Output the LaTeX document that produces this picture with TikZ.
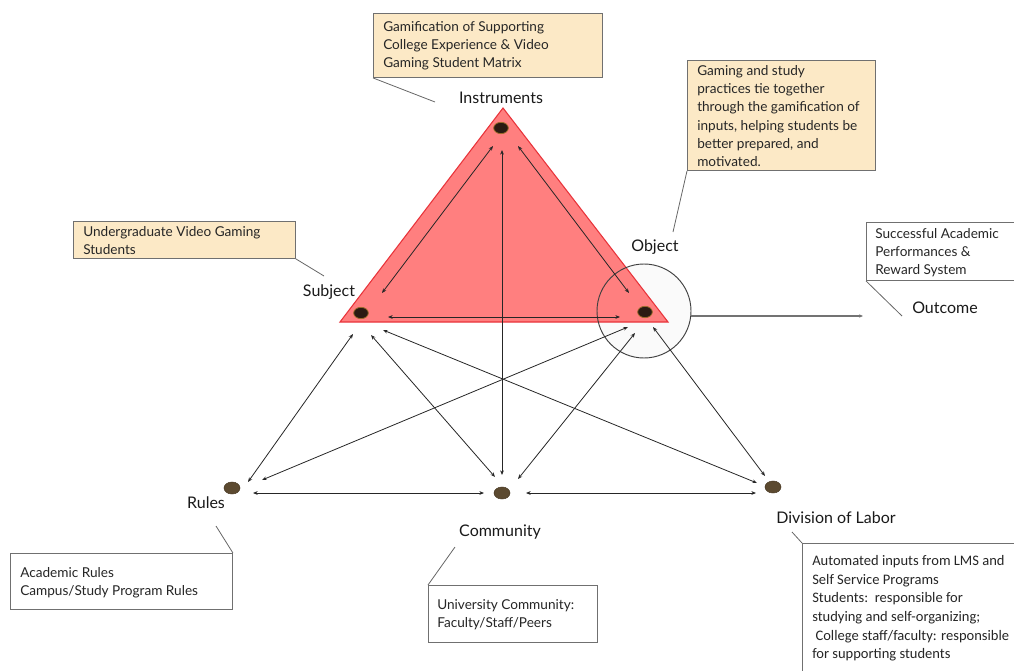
\documentclass[tikz,border=0pt]{standalone}
\usepackage{fontspec}
\setmainfont{Lato}
\newfontfamily\calib{Carlito}
\usetikzlibrary{arrows.meta,shapes.geometric}
\definecolor{boxfill}{HTML}{FCE9C6}
\definecolor{trifill}{HTML}{FF7F7F}
\definecolor{triedge}{HTML}{E8333A}
\definecolor{topdot}{HTML}{2B1A12}
\definecolor{topdotedge}{HTML}{9A6A2A}
\definecolor{botdot}{HTML}{5C4A30}
\definecolor{boxedge}{HTML}{707070}
\tikzset{
  conn/.style={draw=black!85, line width=0.6pt, {Stealth[length=3.5pt,width=2.8pt]}-{Stealth[length=3.5pt,width=2.8pt]}},
  callout/.style={draw=black!60, line width=0.6pt},
  notebox/.style={draw=boxedge, line width=0.7pt, fill=boxfill, anchor=north west, inner sep=0pt},
  whitebox/.style={draw=boxedge, line width=0.7pt, fill=white, anchor=north west, inner sep=0pt},
  boxtext/.style={anchor=north west, align=left, inner sep=0pt, font=\fontsize{10.2}{13.7}\selectfont, text=black!85},
  lbl/.style={font=\fontsize{12}{14}\selectfont, text=black!90, inner sep=0pt},
  topdotst/.style={ellipse, fill=topdot, draw=topdotedge, line width=0.6pt, minimum width=11pt, minimum height=8.5pt, inner sep=0pt},
  botdotst/.style={ellipse, fill=botdot, draw=botdot!80!black, line width=0.4pt, minimum width=12pt, minimum height=9pt, inner sep=0pt}
}
\begin{document}
\begin{tikzpicture}[x=0.75pt,y=-0.75pt]
\useasboundingbox (0,0) rectangle (1014,671);
\clip (0,0) rectangle (1014,671);

% circle around object (fill first)
\fill[black!2] (644,311) circle (47);
% triangle
\coordinate (tA) at (503,108);
\coordinate (tL) at (340,322);
\coordinate (tR) at (668,322);
\filldraw[fill=trifill, draw=triedge, line width=0.8pt] (tA) -- (tL) -- (tR) -- cycle;
\draw[black!75, line width=0.7pt] (644,311) circle (47);
\coordinate (circE) at (691,316);

% dots
\node[topdotst] (dI) at (501,128) {};
\node[topdotst] (dS) at (361,313) {};
\node[topdotst] (dO) at (645,312) {};
\node[botdotst] (dR) at (232,488) {};
\node[botdotst] (dC) at (502,493) {};
\node[botdotst] (dD) at (773,487) {};

% labels
\node[lbl] (lI) at (501,98) {Instruments};
\node[lbl] (lS) at (329,292) {Subject};
\node[lbl] (lO) at (655,247) {Object};
\node[lbl] (lR) at (206,503) {Rules};
\node[lbl] (lC) at (500,532) {Community};
\node[lbl] (lD) at (836,518) {Division of Labor};
\node[lbl] (lOut) at (945,308) {Outcome};

% arrow end coordinates
\coordinate (IS1) at (493,146); \coordinate (IS2) at (382,293);
\coordinate (IO1) at (518,146); \coordinate (IO2) at (629,293);
\coordinate (IC1) at (502,150); \coordinate (IC2) at (502,475);
\coordinate (SO1) at (388,317); \coordinate (SO2) at (620,317);
\coordinate (SR1) at (353,334); \coordinate (SR2) at (248,482);
\coordinate (SC1) at (371,335); \coordinate (SC2) at (495,477);
\coordinate (SD1) at (383,330); \coordinate (SD2) at (757,483);
\coordinate (OR1) at (628,327); \coordinate (OR2) at (262,480);
\coordinate (OC1) at (635,333); \coordinate (OC2) at (518,479);
\coordinate (OD1) at (653,327); \coordinate (OD2) at (765,476);
\coordinate (RC1) at (253,493); \coordinate (RC2) at (484,493);
\coordinate (CD1) at (526,493); \coordinate (CD2) at (756,493);
\coordinate (outE) at (863,316);

\draw[conn] (IS1) -- (IS2);
\draw[conn] (IO1) -- (IO2);
\draw[conn] (IC1) -- (IC2);
\draw[conn] (SO1) -- (SO2);
\draw[conn] (SR1) -- (SR2);
\draw[conn] (SC1) -- (SC2);
\draw[conn] (SD1) -- (SD2);
\draw[conn] (OR1) -- (OR2);
\draw[conn] (OC1) -- (OC2);
\draw[conn] (OD1) -- (OD2);
\draw[conn] (RC1) -- (RC2);
\draw[conn] (CD1) -- (CD2);
\draw[draw=black!55, line width=0.8pt, -{Stealth[length=3pt,width=2.5pt]}] (circE) -- (outE);

% boxes
\node[notebox, minimum width=229*0.75pt, minimum height=64*0.75pt] (bI) at (373,13) {};
\node[boxtext] (tI) at (383,21) {Gamification of Supporting\\College Experience \& Video\\Gaming Student Matrix};
\coordinate (cI) at (435,102);
\draw[callout] (bI.south west) -- (cI);

\node[notebox, minimum width=222*0.75pt, minimum height=37*0.75pt] (bS) at (73,221) {};
\node[boxtext] (tS) at (83,226) {Undergraduate Video Gaming\\Students};
\coordinate (cS) at (324,276);
\draw[callout] (bS.south east) -- (cS);

\node[notebox, minimum width=188*0.75pt, minimum height=110*0.75pt] (bO) at (687,60) {};
\node[boxtext] (tO) at (697,65) {Gaming and study\\practices tie together\\through the gamification of\\inputs, helping students be\\better prepared, and\\motivated.};
\coordinate (cO) at (673,232);
\draw[callout] (bO.south west) -- (cO);

\node[whitebox, minimum width=160*0.75pt, minimum height=58*0.75pt] (bOut) at (866,222) {};
\node[boxtext] (tOut) at (875,228) {Successful Academic\\Performances \&\\Reward System};
\coordinate (cOut) at (902,316);
\draw[callout] (bOut.south west) -- (cOut);

\node[whitebox, minimum width=222*0.75pt, minimum height=56*0.75pt] (bR) at (10,553) {};
\node[boxtext] (tR) at (20,567) {Academic Rules\\Campus/Study Program Rules};
\coordinate (cR) at (216,526);
\draw[callout] (bR.north east) -- (cR);

\node[whitebox, minimum width=169*0.75pt, minimum height=57*0.75pt] (bC) at (428,585) {};
\node[boxtext] (tC) at (437,599) {University Community:\\Faculty/Staff/Peers};
\coordinate (cC) at (455,547);
\draw[callout] (bC.north west) -- (cC);

\node[whitebox, minimum width=230*0.75pt, minimum height=140*0.75pt] (bD) at (802,543) {};
\node[boxtext, font=\calib\fontsize{10.9}{14}\selectfont] (tD) at (812,555) {Automated inputs from LMS and\\Self Service Programs\\Students:\ \ responsible for\\studying and self-organizing;\\\ College staff/faculty: responsible\\for supporting students};
\coordinate (cD) at (792,532);
\draw[callout] (bD.north west) -- (cD);
\end{tikzpicture}
\end{document}
